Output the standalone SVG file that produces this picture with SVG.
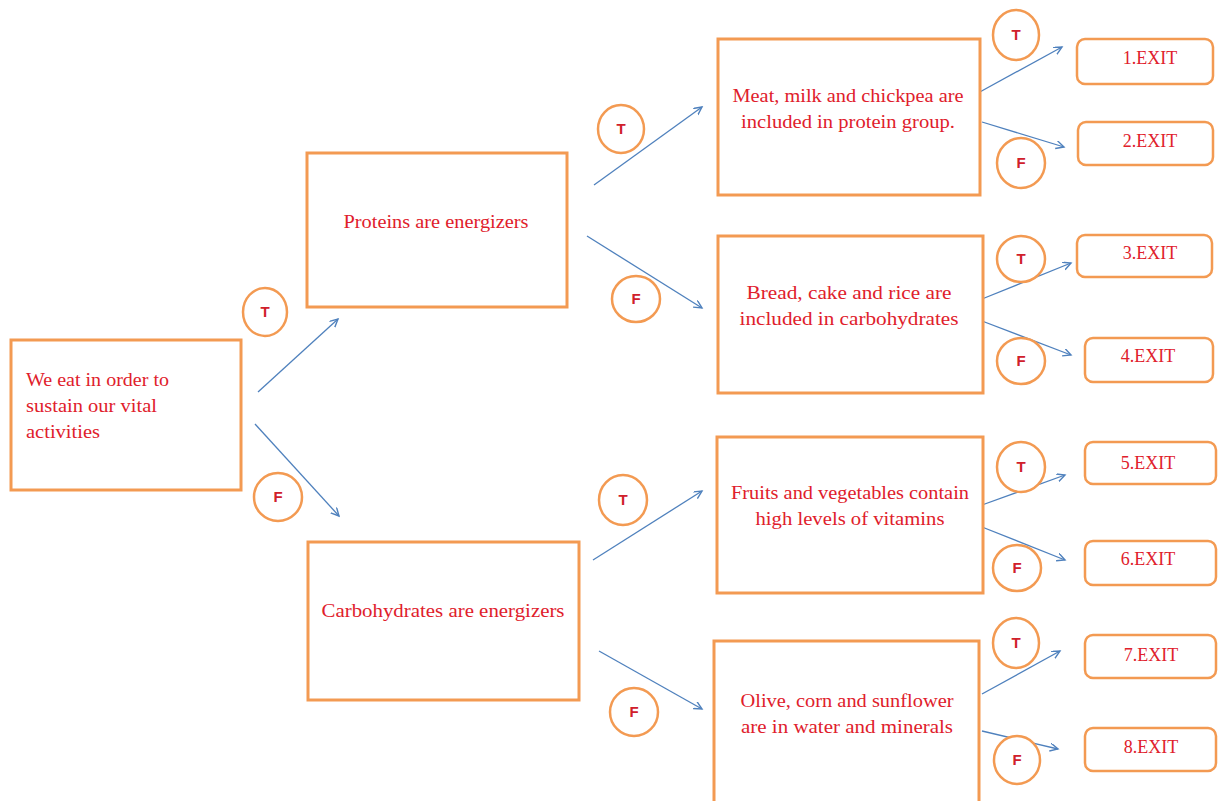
<svg xmlns="http://www.w3.org/2000/svg" width="1219" height="801" viewBox="0 0 1219 801">
<defs>
<marker id="ah" markerWidth="10" markerHeight="10" refX="8" refY="4" orient="auto" markerUnits="userSpaceOnUse">
<path d="M0,0 L8,4 L0,8" fill="none" stroke="#4F81BD" stroke-width="1.4"/>
</marker>
<style>
.box{fill:#fff;stroke:#F39A52;stroke-width:3}
.exit{fill:#fff;stroke:#F39A52;stroke-width:2.5}
.circ{fill:#fff;stroke:#F39A52;stroke-width:2.5}
.t{font-family:"Liberation Serif",serif;font-size:18px;fill:#E0202B;text-anchor:middle}
.tl{font-family:"Liberation Serif",serif;font-size:18px;fill:#E0202B}
.lab{font-family:"Liberation Sans",Arial,sans-serif;font-size:15px;font-weight:bold;fill:#D0202B;text-anchor:middle}
.ex{font-family:"Liberation Serif",serif;font-size:18px;fill:#E0202B;text-anchor:middle}
.con line{stroke:#4F81BD;stroke-width:1.3;marker-end:url(#ah)}
</style>
</defs>
<rect width="1219" height="801" fill="#fff"/>

<g class="con" id="connectors">
<line x1="258" y1="392" x2="338" y2="319"/>
<line x1="255" y1="424" x2="339" y2="516"/>
<line x1="594" y1="185" x2="702" y2="107"/>
<line x1="587" y1="236" x2="702" y2="308"/>
<line x1="593" y1="560" x2="702" y2="491"/>
<line x1="599" y1="651" x2="702" y2="709"/>
<line x1="978" y1="93" x2="1062" y2="47"/>
<line x1="982" y1="122" x2="1064" y2="147"/>
<line x1="982" y1="299" x2="1071" y2="263"/>
<line x1="982" y1="321" x2="1071" y2="355"/>
<line x1="982" y1="505" x2="1065" y2="475"/>
<line x1="982" y1="527" x2="1065" y2="560"/>
<line x1="982" y1="694" x2="1060" y2="651"/>
<line x1="982" y1="731" x2="1058" y2="749"/>
</g>

<g id="root">
<rect class="box" x="11" y="340" width="230" height="150"/>
<text class="tl" x="26" y="386" textLength="143" lengthAdjust="spacingAndGlyphs">We eat in order to</text>
<text class="tl" x="26" y="412" textLength="131" lengthAdjust="spacingAndGlyphs">sustain our vital</text>
<text class="tl" x="26" y="438" textLength="74" lengthAdjust="spacingAndGlyphs">activities</text>
</g>

<g id="proteins">
<rect class="box" x="307" y="153" width="260" height="154"/>
<text class="t" x="436" y="228" textLength="185" lengthAdjust="spacingAndGlyphs">Proteins are energizers</text>
</g>

<g id="carbs">
<rect class="box" x="308" y="542" width="271" height="158"/>
<text class="t" x="443" y="617" textLength="243" lengthAdjust="spacingAndGlyphs">Carbohydrates are energizers</text>
</g>

<g id="meat">
<rect class="box" x="718" y="39" width="262" height="156"/>
<text class="t" x="848" y="102" textLength="231" lengthAdjust="spacingAndGlyphs">Meat, milk and chickpea are</text>
<text class="t" x="848" y="128" textLength="214" lengthAdjust="spacingAndGlyphs">included in protein group.</text>
</g>

<g id="bread">
<rect class="box" x="718" y="236" width="265" height="157"/>
<text class="t" x="849" y="299" textLength="205" lengthAdjust="spacingAndGlyphs">Bread, cake and rice are</text>
<text class="t" x="849" y="325" textLength="219" lengthAdjust="spacingAndGlyphs">included in carbohydrates</text>
</g>

<g id="fruits">
<rect class="box" x="717" y="437" width="266" height="156"/>
<text class="t" x="850" y="499" textLength="238" lengthAdjust="spacingAndGlyphs">Fruits and vegetables contain</text>
<text class="t" x="850" y="525" textLength="189" lengthAdjust="spacingAndGlyphs">high levels of vitamins</text>
</g>

<g id="olive">
<rect class="box" x="714" y="641" width="265" height="170"/>
<text class="t" x="847" y="707" textLength="213" lengthAdjust="spacingAndGlyphs">Olive, corn and sunflower</text>
<text class="t" x="847" y="733" textLength="212" lengthAdjust="spacingAndGlyphs">are in water and minerals</text>
</g>

<g id="lab-root-t"><ellipse class="circ" cx="265" cy="312" rx="22" ry="24"/><text class="lab" x="265" y="317">T</text></g>
<g id="lab-root-f"><ellipse class="circ" cx="278" cy="497" rx="24" ry="24"/><text class="lab" x="278" y="502">F</text></g>
<g id="lab-prot-t"><ellipse class="circ" cx="621" cy="129" rx="23" ry="24"/><text class="lab" x="621" y="134">T</text></g>
<g id="lab-prot-f"><ellipse class="circ" cx="636" cy="299" rx="24" ry="23"/><text class="lab" x="636" y="304">F</text></g>
<g id="lab-carb-t"><ellipse class="circ" cx="623" cy="500" rx="24" ry="25"/><text class="lab" x="623" y="505">T</text></g>
<g id="lab-carb-f"><ellipse class="circ" cx="634" cy="712" rx="24" ry="24"/><text class="lab" x="634" y="717">F</text></g>
<g id="lab-meat-t"><ellipse class="circ" cx="1016" cy="35" rx="23" ry="25"/><text class="lab" x="1016" y="40">T</text></g>
<g id="lab-meat-f"><ellipse class="circ" cx="1021" cy="163" rx="24" ry="25"/><text class="lab" x="1021" y="168">F</text></g>
<g id="lab-bread-t"><ellipse class="circ" cx="1021" cy="259" rx="24" ry="23"/><text class="lab" x="1021" y="264">T</text></g>
<g id="lab-bread-f"><ellipse class="circ" cx="1021" cy="361" rx="24" ry="23"/><text class="lab" x="1021" y="366">F</text></g>
<g id="lab-fruit-t"><ellipse class="circ" cx="1021" cy="467" rx="24" ry="25"/><text class="lab" x="1021" y="472">T</text></g>
<g id="lab-fruit-f"><ellipse class="circ" cx="1017" cy="568" rx="24" ry="23"/><text class="lab" x="1017" y="573">F</text></g>
<g id="lab-olive-t"><ellipse class="circ" cx="1016" cy="643" rx="23" ry="25"/><text class="lab" x="1016" y="648">T</text></g>
<g id="lab-olive-f"><ellipse class="circ" cx="1017" cy="760" rx="23" ry="24"/><text class="lab" x="1017" y="765">F</text></g>

<g id="exit1"><rect class="exit" x="1077" y="39" width="136" height="45" rx="8"/><text class="ex" x="1150" y="64">1.EXIT</text></g>
<g id="exit2"><rect class="exit" x="1078" y="122" width="135" height="43" rx="8"/><text class="ex" x="1150" y="147">2.EXIT</text></g>
<g id="exit3"><rect class="exit" x="1077" y="235" width="135" height="42" rx="8"/><text class="ex" x="1150" y="259">3.EXIT</text></g>
<g id="exit4"><rect class="exit" x="1085" y="338" width="128" height="44" rx="8"/><text class="ex" x="1148" y="362">4.EXIT</text></g>
<g id="exit5"><rect class="exit" x="1085" y="442" width="131" height="42" rx="8"/><text class="ex" x="1148" y="469">5.EXIT</text></g>
<g id="exit6"><rect class="exit" x="1085" y="541" width="131" height="44" rx="8"/><text class="ex" x="1148" y="565">6.EXIT</text></g>
<g id="exit7"><rect class="exit" x="1085" y="635" width="131" height="43" rx="8"/><text class="ex" x="1151" y="661">7.EXIT</text></g>
<g id="exit8"><rect class="exit" x="1085" y="728" width="131" height="43" rx="8"/><text class="ex" x="1151" y="753">8.EXIT</text></g>
</svg>
